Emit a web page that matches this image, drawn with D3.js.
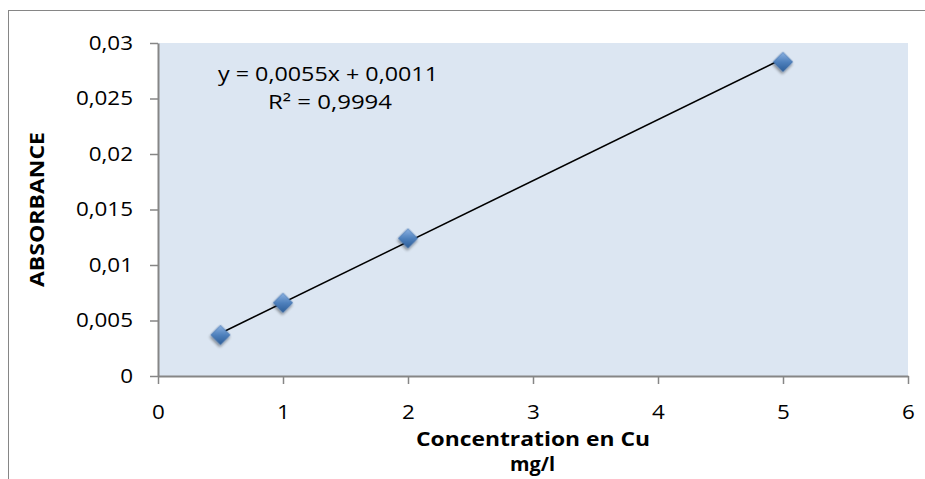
<!DOCTYPE html>
<html><head><meta charset="utf-8">
<script src="https://cdn.jsdelivr.net/npm/d3@7"></script>
<style>body{margin:0;background:#fff;}svg{display:block;font-family:"Open Sans",Lato,sans-serif;}</style>
</head><body>
<svg id="c" width="925" height="479"></svg>
<script>
const concentrations = [0.5, 1, 2, 5];
const absorbance = [0.0037, 0.0066, 0.0124, 0.0283];
const xTicks = [0, 1, 2, 3, 4, 5, 6];
const yTicks = [0, 0.005, 0.01, 0.015, 0.02, 0.025, 0.03];
const slope = 0.0055, intercept = 0.0011;
const equationText = "y = 0,0055x + 0,0011";
const r2Text = "R² = 0,9994";
const xTitle = ["Concentration en Cu", "mg/l"];
const yTitle = "ABSORBANCE";

const svg = d3.select("#c");
const L = 158, R = 908, T = 43, B = 376;
const x = d3.scaleLinear().domain([0, 6]).range([L, R]);
const y = d3.scaleLinear().domain([0, 0.03]).range([B, T]);
const fmt = d => String(+d.toFixed(4)).replace(".", ",");
const SX = 1.15;

// outer chart border
svg.append("rect").attr("x", 8.5).attr("y", 10.5).attr("width", 930).attr("height", 480)
  .attr("fill", "#fff").attr("stroke", "#868686").attr("stroke-width", 1);

// plot area
svg.append("rect").attr("x", L).attr("y", T).attr("width", R - L).attr("height", B - T).attr("fill", "#dce6f2");

const defs = svg.append("defs");
const g = defs.append("linearGradient").attr("id", "mk").attr("x1", "0").attr("y1", "0").attr("x2", "1").attr("y2", "1");
g.append("stop").attr("offset", "0").attr("stop-color", "#8db3e2");
g.append("stop").attr("offset", "0.5").attr("stop-color", "#4f81bd");
g.append("stop").attr("offset", "1").attr("stop-color", "#2c5d98");
const f = defs.append("filter").attr("id", "sh").attr("x", "-50%").attr("y", "-50%").attr("width", "200%").attr("height", "200%");
f.append("feGaussianBlur").attr("in", "SourceAlpha").attr("stdDeviation", 1.5);
f.append("feOffset").attr("dx", 1).attr("dy", 2).attr("result", "o");
f.append("feComponentTransfer").append("feFuncA").attr("type", "linear").attr("slope", 0.45);
const m = f.append("feMerge"); m.append("feMergeNode"); m.append("feMergeNode").attr("in", "SourceGraphic");

// axes
const yAxis = svg.append("g").attr("transform", `translate(${L},0)`)
  .call(d3.axisLeft(y).tickValues(yTicks).tickFormat(fmt).tickSize(8).tickSizeOuter(0).tickPadding(25));
const xAxis = svg.append("g").attr("transform", `translate(0,${B})`)
  .call(d3.axisBottom(x).tickValues(xTicks).tickFormat(d => d).tickSize(8).tickSizeOuter(0).tickPadding(21));
[yAxis, xAxis].forEach(a => {
  a.select(".domain").attr("stroke", "#868686").attr("stroke-width", 2);
  a.selectAll(".tick line").attr("stroke", "#868686").attr("stroke-width", 1.5);
  a.selectAll(".tick text").attr("fill", "#000").style("font-size", "19.5px").style("font-family", "'Open Sans'");
});
yAxis.selectAll(".tick text").attr("x", -25 / SX).attr("transform", `scale(${SX},1)`);
xAxis.selectAll(".tick text").attr("transform", `scale(${SX},1)`);

// trendline
const xs = d3.extent(concentrations);
svg.append("line").attr("x1", x(xs[0])).attr("y1", y(slope * xs[0] + intercept))
  .attr("x2", x(xs[1])).attr("y2", y(slope * xs[1] + intercept))
  .attr("stroke", "#000").attr("stroke-width", 1.5);

// markers
const sym = d3.symbol().type(d3.symbolSquare).size(190);
svg.selectAll(".pt").data(concentrations.map((c, i) => [c, absorbance[i]])).join("path")
  .attr("class", "pt").attr("d", sym)
  .attr("transform", d => `translate(${x(d[0])},${y(d[1])}) rotate(45)`)
  .attr("fill", "url(#mk)").attr("stroke", "#3a6aa6").attr("stroke-width", 0.5).attr("filter", "url(#sh)");

// equation
svg.append("text").attr("x", 218).attr("y", 81).attr("font-size", 19.5)
  .attr("textLength", 220).attr("lengthAdjust", "spacingAndGlyphs").text(equationText);
svg.append("text").attr("x", 268).attr("y", 109).attr("font-size", 19.5)
  .attr("textLength", 124).attr("lengthAdjust", "spacingAndGlyphs").text(r2Text);

// axis titles
svg.append("text").attr("transform", `translate(44,${287}) rotate(-90)`)
  .attr("font-weight", "bold").attr("font-size", 19)
  .attr("textLength", 155).attr("lengthAdjust", "spacingAndGlyphs").text(yTitle);
svg.append("text").attr("x", 416).attr("y", 446).attr("font-weight", "bold").attr("font-size", 19.5)
  .attr("textLength", 234).attr("lengthAdjust", "spacingAndGlyphs").text(xTitle[0]);
svg.append("text").attr("x", 510).attr("y", 471).attr("font-weight", "bold").attr("font-size", 19)
  .attr("textLength", 45).attr("lengthAdjust", "spacingAndGlyphs").text(xTitle[1]);
</script>
</body></html>
